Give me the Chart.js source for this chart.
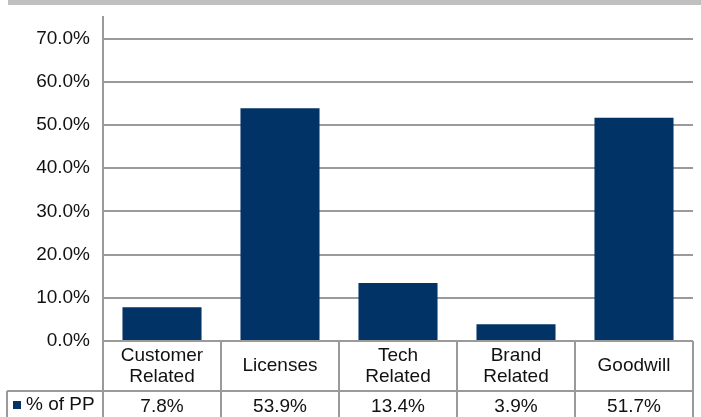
<!DOCTYPE html>
<html>
<head>
<meta charset="utf-8">
<script src="https://cdn.jsdelivr.net/npm/chart.js@4/dist/chart.umd.min.js"></script>
<style>
  html, body { margin: 0; padding: 0; background: #fff; }
  #wrap { width: 701px; height: 417px; }
</style>
</head>
<body>
<div id="wrap"><canvas id="ppChart" width="701" height="417"></canvas></div>
<script>
// data
var categories = [["Customer", "Related"], ["Licenses"], ["Tech", "Related"], ["Brand", "Related"], ["Goodwill"]];
var seriesName = "% of PP";
var ppValues = [7.8, 53.9, 13.4, 3.9, 51.7];
var yTicks = [0, 10, 20, 30, 40, 50, 60, 70];

var navy = "#023366";
var lineGray = "#9a9a9a";
var fontFamily = "'Liberation Sans', Arial, sans-serif";

// top band + data table under the plot
var tablePlugin = {
    id: "dataTable",
    beforeDraw: function(chart) {
        var c = chart.ctx;
        c.save();
        c.fillStyle = "#c0c0c0";
        c.fillRect(8, 0, chart.width - 8, 5);
        c.restore();
    },
    afterDraw: function(chart) {
        var c = chart.ctx;
        var area = chart.chartArea;
        var x = chart.scales.x;
        var n = categories.length;
        var step = (area.right - area.left) / n;
        var top = area.bottom;
        var mid = top + 50;
        var bottom = chart.height + 2;
        var tableLeft = 7;

        c.save();
        c.strokeStyle = lineGray;
        c.lineWidth = 2;
        c.beginPath();
        c.moveTo(area.left, top); c.lineTo(area.right, top);
        c.moveTo(tableLeft, mid); c.lineTo(area.right, mid);
        c.moveTo(tableLeft, mid); c.lineTo(tableLeft, bottom);
        for (var i = 0; i <= n; i++) {
            var lx = area.left + step * i;
            c.moveTo(lx, top); c.lineTo(lx, bottom);
        }
        c.stroke();

        c.fillStyle = "#111";
        c.font = "19px " + fontFamily;
        c.textAlign = "center";
        c.textBaseline = "middle";
        for (var j = 0; j < n; j++) {
            var cx = x.getPixelForValue(j);
            var lines = categories[j];
            var lh = 21;
            var y0 = (top + mid) / 2 - (lines.length - 1) * lh / 2;
            for (var k = 0; k < lines.length; k++) {
                c.fillText(lines[k], cx, y0 + k * lh);
            }
            c.fillText(ppValues[j].toFixed(1) + "%", cx, mid + 16);
        }

        c.fillStyle = navy;
        c.fillRect(13, mid + 10, 8, 8);
        c.fillStyle = "#111";
        c.textAlign = "left";
        c.fillText(seriesName, 26, mid + 14);
        c.restore();
    }
};

var ctx = document.getElementById("ppChart");
var ppChart = new Chart(ctx, {
    type: "bar",
    data: {
        labels: categories.map(function(l) { return l.join(" "); }),
        datasets: [
            {
                label: seriesName,
                data: ppValues,
                backgroundColor: navy,
                barPercentage: 0.67,
                categoryPercentage: 1.0
            }
        ]
    },
    options: {
        responsive: false,
        animation: false,
        layout: { padding: { top: 17, bottom: 76, right: 8, left: 0 } },
        plugins: {
            legend: { display: false },
            tooltip: { enabled: false }
        },
        scales: {
            x: { display: false },
            y: {
                min: 0,
                max: 75,
                afterBuildTicks: function(scale) {
                    scale.ticks = yTicks.map(function(v) { return { value: v }; });
                },
                afterFit: function(scale) {
                    scale.width = 103;
                    scale.paddingTop = 0;
                    scale.paddingBottom = 0;
                },
                grid: { color: lineGray, lineWidth: 2, drawTicks: false },
                border: { color: lineGray, width: 2 },
                ticks: {
                    padding: 13,
                    color: "#111",
                    font: { family: fontFamily, size: 19 },
                    callback: function(v) { return v.toFixed(1) + "%"; }
                }
            }
        }
    },
    plugins: [tablePlugin]
});
</script>
</body>
</html>
